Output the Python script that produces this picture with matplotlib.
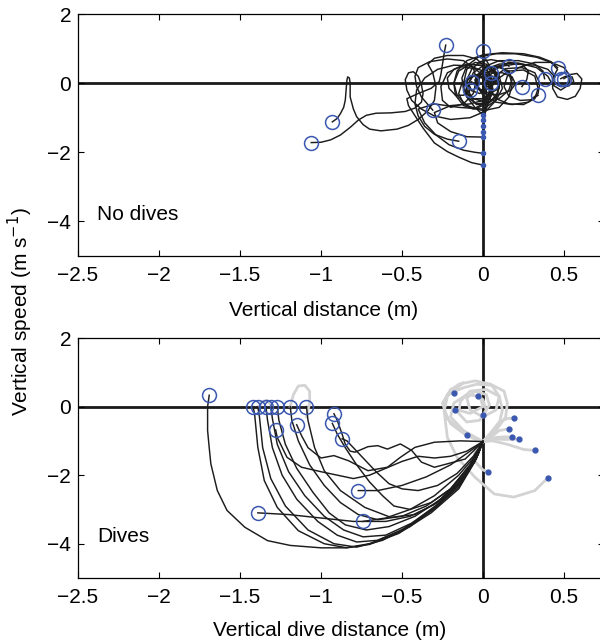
import matplotlib
matplotlib.use("Agg")
import matplotlib.pyplot as plt

plt.rcParams['font.family'] = ['Liberation Sans', 'DejaVu Sans']

# ---------------- data ----------------
xticks = [-2.5, -2, -1.5, -1, -0.5, 0, 0.5]
xticklabels = ['\u22122.5', '\u22122', '\u22121.5', '\u22121', '\u22120.5', '0', '0.5']
yticks = [2, 0, -2, -4]
yticklabels = ['2', '0', '\u22122', '\u22124']

# Top panel (no dives): each trajectory starts at a circle
top_tracks = [
    [(-1.06,-1.72),(-1.0,-1.71),(-0.94,-1.64),(-0.88,-1.50),(-0.82,-1.28),(-0.77,-1.07),(-0.72,-0.93),(-0.66,-0.87),(-0.57,-0.86),(-0.48,-0.82),(-0.42,-0.72),(-0.38,-0.55),(-0.37,-0.3),(-0.38,-0.05),(-0.40,0.2),(-0.43,0.33),(-0.46,0.3),(-0.48,0.1),(-0.47,-0.2),(-0.44,-0.5),(-0.38,-0.75),(-0.3,-0.95),(-0.2,-1.05),(-0.08,-1.0),(0.02,-0.8),(0.08,-0.5),(0.1,-0.1),(0.08,0.3),(0.02,0.55),(-0.05,0.6),(-0.1,0.4),(-0.12,0.0),(-0.1,-0.4),(-0.05,-0.7),(0.0,-0.92)],
    [(-0.93,-1.12),(-0.9,-1.02),(-0.88,-0.88),(-0.86,-0.7),(-0.85,-0.49),(-0.845,-0.2),(-0.84,0.09),(-0.835,0.18),(-0.825,0.15),(-0.82,0.0),(-0.82,-0.40),(-0.8,-0.75),(-0.78,-0.97),(-0.74,-1.2),(-0.70,-1.33),(-0.63,-1.38),(-0.53,-1.33),(-0.46,-1.22),(-0.4,-1.05),(-0.34,-0.8),(-0.3,-0.5),(-0.29,-0.1),(-0.31,0.3),(-0.34,0.55),(-0.3,0.72),(-0.22,0.8),(-0.12,0.8),(-0.04,0.7),(0.02,0.45),(0.05,0.1),(0.04,-0.3),(0.0,-0.6),(-0.06,-0.75),(-0.12,-0.65),(-0.17,-0.35),(-0.18,0.0),(-0.15,0.35),(-0.08,0.55),(0.0,0.5),(0.05,0.2),(0.05,-0.2),(0.03,-0.6),(0.0,-1.07)],
    [(-0.31,-0.78),(-0.34,-0.62),(-0.38,-0.4),(-0.41,-0.1),(-0.42,0.2),(-0.4,0.45),(-0.33,0.62),(-0.22,0.7),(-0.12,0.65),(-0.06,0.45),(-0.04,0.1),(-0.06,-0.3),(-0.12,-0.6),(-0.2,-0.7),(-0.25,-0.5),(-0.26,-0.1),(-0.22,0.3),(-0.14,0.48),(-0.05,0.42),(0.02,0.15),(0.04,-0.2),(0.02,-0.6),(0.0,-1.24)],
    [(-0.15,-1.68),(-0.22,-1.62),(-0.3,-1.48),(-0.36,-1.25),(-0.4,-0.95),(-0.42,-0.6),(-0.41,-0.2),(-0.36,0.15),(-0.28,0.4),(-0.18,0.52),(-0.08,0.5),(0.0,0.35),(0.05,0.05),(0.06,-0.3),(0.02,-0.6),(-0.05,-0.75),(-0.12,-0.6),(-0.15,-0.3),(-0.13,0.0),(-0.06,0.2),(0.02,0.15),(0.06,-0.15),(0.04,-0.45),(-0.08,-0.6),(-0.2,-0.65),(-0.3,-0.85),(-0.28,-1.15),(-0.2,-1.4),(-0.1,-1.55),(0.0,-1.56)],
    [(-0.23,1.10),(-0.24,0.85),(-0.25,0.55),(-0.26,0.25),(-0.27,0.05),(-0.32,-0.15),(-0.4,-0.3),(-0.47,-0.45),(-0.46,-0.65),(-0.43,-0.87),(-0.37,-1.3),(-0.30,-1.73),(-0.22,-1.98),(-0.15,-2.14),(-0.07,-2.3),(0.0,-2.37)],
    [(0.0,0.93),(0.01,0.75),(0.04,0.5),(0.08,0.2),(0.1,-0.1),(0.08,-0.4),(0.03,-0.6),(-0.04,-0.62),(-0.08,-0.4),(-0.09,-0.05),(-0.06,0.3),(0.0,0.5),(0.06,0.45),(0.1,0.2),(0.12,-0.15),(0.08,-0.5),(0.0,-0.75),(-0.15,-0.7),(-0.3,-0.6),(-0.4,-0.75),(-0.36,-1.15),(-0.29,-1.5),(-0.21,-1.78),(-0.12,-1.94),(-0.05,-2.0),(0.0,-2.03)],
    [(0.16,0.49),(0.12,0.62),(0.05,0.68),(-0.02,0.62),(-0.07,0.4),(-0.1,0.1),(-0.1,-0.2),(-0.06,-0.45),(0.02,-0.55),(0.1,-0.45),(0.16,-0.2),(0.18,0.1),(0.16,0.35),(0.1,0.45),(0.04,0.35),(0.0,0.1),(0.0,-0.2),(0.03,-0.35),(0.06,-0.15),(0.04,0.05),(0.0,0.0)],
    [(0.46,0.45),(0.42,0.62),(0.35,0.75),(0.25,0.85),(0.12,0.88),(0.0,0.82),(-0.1,0.65),(-0.16,0.35),(-0.18,0.0),(-0.16,-0.35),(-0.1,-0.65),(0.0,-0.8),(0.1,-0.7),(0.16,-0.4),(0.18,-0.05),(0.16,0.3),(0.1,0.5),(0.03,0.45),(-0.02,0.2),(-0.03,-0.1),(0.0,-0.3)],
    [(0.5,0.13),(0.54,0.25),(0.58,0.28),(0.61,0.12),(0.6,-0.15),(0.57,-0.38),(0.52,-0.47),(0.46,-0.4),(0.43,-0.15),(0.43,0.15),(0.46,0.4),(0.42,0.6),(0.33,0.75),(0.2,0.85),(0.08,0.85),(-0.03,0.75),(-0.1,0.5),(-0.13,0.15),(-0.12,-0.2),(-0.06,-0.45),(0.02,-0.45),(0.06,-0.2),(0.05,0.1),(0.0,0.1)],
    [(0.38,0.13),(0.37,0.35),(0.32,0.55),(0.22,0.65),(0.1,0.65),(0.02,0.5),(-0.03,0.25),(-0.04,-0.05),(0.0,-0.35),(0.08,-0.55),(0.18,-0.62),(0.28,-0.55),(0.34,-0.3),(0.35,0.0),(0.32,0.3),(0.24,0.45),(0.14,0.42),(0.07,0.2),(0.04,-0.1),(0.0,-0.3)],
    [(0.24,-0.1),(0.27,0.1),(0.28,0.35),(0.24,0.55),(0.16,0.6),(0.08,0.45),(0.04,0.2),(0.04,-0.15),(0.08,-0.45),(0.16,-0.6),(0.25,-0.62),(0.32,-0.45),(0.34,-0.15),(0.32,0.2),(0.25,0.38),(0.16,0.35),(0.1,0.15),(0.05,-0.1),(0.0,-0.1)],
    [(0.34,-0.35),(0.3,-0.48),(0.23,-0.5),(0.16,-0.38),(0.13,-0.1),(0.15,0.2),(0.22,0.45),(0.32,0.6),(0.42,0.6),(0.5,0.45),(0.54,0.2),(0.53,-0.05),(0.48,-0.2),(0.43,-0.05),(0.4,0.2),(0.33,0.45),(0.22,0.58),(0.1,0.55),(0.0,0.38),(-0.05,0.1),(-0.04,-0.15),(0.0,-0.2)],
    [(-0.07,0.04),(-0.1,-0.12),(-0.1,-0.32),(-0.06,-0.45),(0.0,-0.45),(0.05,-0.3),(0.06,-0.05),(0.04,0.18),(-0.01,0.28),(-0.06,0.22),(-0.09,0.0),(-0.07,-0.22),(-0.02,-0.3),(0.02,-0.15),(0.02,0.0)],
    [(-0.08,-0.2),(-0.12,-0.35),(-0.17,-0.35),(-0.21,-0.15),(-0.22,0.15),(-0.18,0.4),(-0.1,0.55),(-0.01,0.52),(0.06,0.35),(0.1,0.05),(0.09,-0.3),(0.04,-0.55),(-0.04,-0.6),(-0.1,-0.4),(-0.12,-0.1),(-0.08,0.18),(-0.02,0.22),(0.02,0.0),(0.02,-0.5),(0.01,-1.0),(0.0,-1.40)],
    [(0.05,0.01),(0.09,0.1),(0.1,0.25),(0.06,0.33),(0.0,0.3),(-0.04,0.15),(-0.05,-0.08),(-0.01,-0.25),(0.05,-0.28),(0.1,-0.15),(0.1,0.05),(0.05,0.12),(0.0,0.05)],
    [(0.05,0.29),(0.12,0.3),(0.18,0.18),(0.2,-0.02),(0.17,-0.22),(0.1,-0.33),(0.02,-0.32),(-0.03,-0.15),(-0.04,0.08),(0.0,0.22),(0.06,0.2),(0.08,0.05),(0.02,-0.05)],
    [(0.48,0.13),(0.51,0.2),(0.55,0.18),(0.56,0.05),(0.53,-0.08),(0.48,-0.1),(0.44,0.02),(0.44,0.2),(0.4,0.4),(0.32,0.52),(0.2,0.55),(0.1,0.48),(0.03,0.3),(0.0,0.1),(0.0,0.0)],
]
top_end_dots_y = [-0.92, -1.07, -1.24, -1.40, -1.56, -2.03, -2.37]

# Bottom panel (dives): black dive trajectories start at a circle, end at (0, -1.02)
dive_tracks = [
    [(-1.69,0.33),(-1.70,0.0),(-1.70,-0.7),(-1.69,-1.2),(-1.68,-1.67),(-1.64,-2.45),(-1.58,-3.03),(-1.47,-3.52),(-1.33,-3.91),(-1.19,-4.05),(-1.0,-4.12),(-0.85,-4.12),(-0.7,-4.0),(-0.52,-3.65),(-0.32,-3.05),(-0.15,-2.35),(-0.05,-1.6),(0.0,-1.02)],
    [(-1.42,0.0),(-1.41,-0.21),(-1.40,-0.7),(-1.39,-1.19),(-1.35,-2.16),(-1.27,-2.94),(-1.14,-3.62),(-0.98,-4.0),(-0.84,-4.12),(-0.7,-4.02),(-0.52,-3.7),(-0.32,-3.1),(-0.15,-2.4),(-0.05,-1.6),(0.0,-1.02)],
    [(-1.39,0.0),(-1.38,-0.3),(-1.37,-0.75),(-1.36,-1.2),(-1.31,-2.1),(-1.22,-2.9),(-1.08,-3.6),(-0.92,-4.0),(-0.78,-4.1),(-0.62,-3.9),(-0.45,-3.5),(-0.28,-2.9),(-0.13,-2.2),(-0.04,-1.5),(0.0,-1.02)],
    [(-1.34,0.0),(-1.33,-0.4),(-1.3,-1.2),(-1.24,-2.0),(-1.15,-2.7),(-1.02,-3.35),(-0.9,-3.75),(-0.78,-3.95),(-0.65,-3.9),(-0.48,-3.55),(-0.3,-2.95),(-0.14,-2.2),(-0.04,-1.5),(0.0,-1.02)],
    [(-1.31,0.0),(-1.30,-0.35),(-1.27,-1.1),(-1.2,-1.9),(-1.1,-2.6),(-0.98,-3.2),(-0.86,-3.6),(-0.74,-3.8),(-0.6,-3.75),(-0.44,-3.4),(-0.28,-2.85),(-0.13,-2.15),(-0.04,-1.5),(0.0,-1.02)],
    [(-1.27,0.0),(-1.26,-0.4),(-1.22,-1.1),(-1.15,-1.8),(-1.05,-2.5),(-0.95,-3.1),(-0.85,-3.45),(-0.72,-3.6),(-0.58,-3.5),(-0.42,-3.2),(-0.26,-2.7),(-0.12,-2.0),(-0.03,-1.4),(0.0,-1.02)],
    [(-1.19,0.0),(-1.18,-0.4),(-1.14,-1.0),(-1.07,-1.7),(-0.98,-2.3),(-0.88,-2.8),(-0.77,-3.15),(-0.65,-3.3),(-0.5,-3.2),(-0.35,-2.9),(-0.2,-2.4),(-0.08,-1.7),(0.0,-1.02)],
    [(-1.09,0.0),(-1.08,-0.41),(-1.04,-1.19),(-0.98,-1.87),(-0.88,-2.45),(-0.73,-2.94),(-0.57,-3.23),(-0.42,-3.15),(-0.28,-2.8),(-0.15,-2.2),(-0.05,-1.55),(0.0,-1.02)],
    [(-1.28,-0.68),(-1.27,-0.9),(-1.21,-1.48),(-1.12,-1.77),(-1.0,-1.9),(-0.9,-2.0),(-0.8,-2.1),(-0.7,-2.0),(-0.6,-1.8),(-0.5,-1.6),(-0.4,-1.45),(-0.3,-1.5),(-0.2,-1.45),(-0.1,-1.3),(0.0,-1.02)],
    [(-1.15,-0.53),(-1.12,-0.85),(-1.08,-1.2),(-1.0,-1.5),(-0.92,-1.43),(-0.83,-1.58),(-0.71,-1.87),(-0.59,-1.77),(-0.51,-1.48),(-0.42,-1.19),(-0.30,-1.04),(-0.14,-1.0),(0.0,-1.02)],
    [(-0.92,-0.21),(-0.9,-0.4),(-0.87,-0.8),(-0.85,-1.1),(-0.82,-1.3),(-0.79,-1.33),(-0.71,-1.17),(-0.65,-1.14),(-0.59,-1.24),(-0.51,-1.09),(-0.44,-1.28),(-0.38,-1.62),(-0.30,-1.77),(-0.22,-1.67),(-0.11,-1.53),(0.0,-1.02)],
    [(-0.93,-0.49),(-0.9,-0.8),(-0.85,-1.2),(-0.78,-1.7),(-0.7,-2.2),(-0.62,-2.6),(-0.55,-2.9),(-0.45,-3.0),(-0.32,-2.8),(-0.2,-2.4),(-0.08,-1.7),(0.0,-1.02)],
    [(-0.87,-0.94),(-0.84,-1.0),(-0.8,-1.2),(-0.74,-1.5),(-0.66,-1.9),(-0.58,-2.25),(-0.5,-2.4),(-0.4,-2.45),(-0.28,-2.3),(-0.16,-1.95),(-0.06,-1.45),(0.0,-1.02)],
    [(-0.77,-2.45),(-0.65,-2.45),(-0.5,-2.3),(-0.35,-2.05),(-0.2,-1.7),(-0.08,-1.3),(0.0,-1.02)],
    [(-1.39,-3.1),(-1.2,-3.15),(-1.0,-3.25),(-0.8,-3.35),(-0.6,-3.35),(-0.45,-3.2),(-0.3,-2.85),(-0.15,-2.25),(-0.05,-1.6),(0.0,-1.02)],
    [(-0.74,-3.35),(-0.6,-3.25),(-0.45,-3.0),(-0.3,-2.6),(-0.15,-2.0),(-0.05,-1.45),(0.0,-1.02)],
]

# Bottom panel grey (post-dive / pre-dive) tracks; post-dive ones end at a blue dot
grey_tracks = [
    [(0.0,-1.02),(-0.1,-0.85),(-0.2,-0.5),(-0.24,-0.1),(-0.22,0.35),(-0.15,0.65),(-0.05,0.75),(0.05,0.65),(0.1,0.3),(0.08,-0.1),(0.0,-0.3),(-0.08,-0.1),(-0.1,0.25),(-0.05,0.45),(0.02,0.35),(0.04,0.05),(0.0,-0.26)],
    [(0.0,-1.02),(0.05,-0.8),(0.1,-0.5),(0.12,-0.1),(0.1,0.3),(0.02,0.5),(-0.08,0.45),(-0.14,0.15),(-0.15,-0.2),(-0.1,-0.45),(-0.02,-0.4),(0.02,-0.1),(0.0,0.2),(-0.03,0.32)],
    [(0.0,-1.02),(0.08,-0.7),(0.14,-0.3),(0.15,0.1),(0.13,0.45),(0.06,0.62),(-0.04,0.65),(-0.12,0.55),(-0.17,0.45),(-0.18,0.39)],
    [(0.0,-1.02),(-0.12,-0.7),(-0.2,-0.3),(-0.18,0.1),(-0.1,0.35),(-0.02,0.3),(0.0,0.0),(-0.08,-0.2),(-0.15,-0.1),(-0.17,-0.09)],
    [(0.0,-1.02),(0.05,-0.75),(0.1,-0.45),(0.15,-0.35),(0.19,-0.33)],
    [(0.0,-1.02),(0.06,-0.85),(0.1,-0.7),(0.16,-0.65)],
    [(0.0,-1.02),(0.08,-0.9),(0.14,-0.88),(0.18,-0.9)],
    [(0.0,-1.02),(0.08,-0.95),(0.15,-0.96),(0.22,-0.94)],
    [(0.0,-1.02),(0.06,-1.0),(0.15,-1.1),(0.25,-1.25),(0.32,-1.28)],
    [(0.0,-1.02),(-0.05,-0.95),(-0.1,-0.82)],
    [(0.0,-1.02),(-0.05,-1.25),(-0.05,-1.6),(0.0,-1.85),(0.03,-1.9)],
    [(0.0,-1.02),(-0.12,-0.75),(-0.22,-0.35),(-0.25,0.1),(-0.2,0.5),(-0.12,0.7),(-0.22,0.3),(-0.24,-0.12),(-0.22,-0.9),(-0.16,-1.48),(-0.05,-2.06),(0.07,-2.55),(0.19,-2.64),(0.32,-2.45),(0.40,-2.08)],
    [(-1.19,0.0),(-1.17,0.35),(-1.14,0.6),(-1.1,0.62),(-1.07,0.45),(-1.07,0.1),(-1.09,-0.3)],
    [(-1.38,0.0),(-1.36,0.15),(-1.33,0.18),(-1.31,0.05)],
]
grey_end_dots = [(0.0,-0.26),(-0.03,0.32),(-0.18,0.39),(-0.17,-0.09),(0.19,-0.33),(0.16,-0.65),
                 (0.18,-0.9),(0.22,-0.94),(0.32,-1.28),(-0.1,-0.82),(0.03,-1.9),(0.40,-2.08)]

# ---------------- drawing ----------------
BLUE = '#3a58b0'
fig = plt.figure(figsize=(6.0, 6.42), dpi=100)
W = 3.25 * 162 / 600
ax1 = fig.add_axes([78/600, 1 - 256/642, W, 242/642])
ax2 = fig.add_axes([78/600, 1 - 578/642, W, 240/642])

def style(ax, xlabel, label, lx, ly):
    ax.set_xlim(-2.5, 0.75)
    ax.set_ylim(-5, 2)
    ax.axhline(0, color='#1a1a1a', lw=2.0, zorder=1)
    ax.axvline(0, color='#1a1a1a', lw=2.0, zorder=1)
    ax.set_xticks(xticks)
    ax.set_xticklabels(xticklabels)
    ax.set_yticks(yticks)
    ax.set_yticklabels(yticklabels)
    ax.tick_params(direction='in', length=4, width=0.8, top=True, right=True,
                   labelsize=15)
    ax.tick_params(axis='x', pad=7)
    ax.tick_params(axis='y', pad=5)
    for s in ax.spines.values():
        s.set_linewidth(0.9)
    ax.set_xlabel(xlabel, fontsize=15, va='center')
    ax.xaxis.set_label_coords(lx, ly)
    ax.text(-2.38, -3.8, label, fontsize=15, va='center', ha='left')

style(ax1, 'Vertical distance (m)', 'No dives', (324-78)/526.5, -55/242)
style(ax2, 'Vertical dive distance (m)', 'Dives', (330-78)/526.5, -52/240)

LINE = '#1c1c1c'
for tr in top_tracks:
    xs, ys = zip(*tr)
    ax1.plot(xs, ys, color=LINE, lw=1.05, zorder=2, solid_joinstyle='round')
    ax1.plot(xs[0], ys[0], 'o', ms=10, mfc='none', mec=BLUE, mew=1.1, zorder=4)
ax1.plot([0]*len(top_end_dots_y), top_end_dots_y, 'o', ms=3.0, color=BLUE, zorder=4)

for tr in grey_tracks:
    xs, ys = zip(*tr)
    ax2.plot(xs, ys, color='#d3d3d3', lw=2.0, zorder=1.5, solid_joinstyle='round')
for tr in dive_tracks:
    xs, ys = zip(*tr)
    ax2.plot(xs, ys, color=LINE, lw=1.05, zorder=2, solid_joinstyle='round')
    ax2.plot(xs[0], ys[0], 'o', ms=10, mfc='none', mec=BLUE, mew=1.1, zorder=4)
gx, gy = zip(*grey_end_dots)
ax2.plot(gx, gy, 'o', ms=3.5, color=BLUE, zorder=4)

fig.text(0.034, 1 - 312/642, 'Vertical speed (m s$^{-1}$)', rotation=90,
         fontsize=15, va='center', ha='center')

fig.savefig('out.png', dpi=100)
